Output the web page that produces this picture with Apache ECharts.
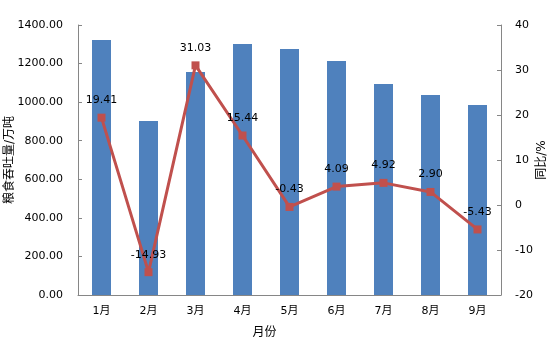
<!DOCTYPE html>
<html><head><meta charset="utf-8">
<script src="https://cdn.jsdelivr.net/npm/echarts@6/dist/echarts.min.js"></script>
<style>html,body{margin:0;padding:0;background:#fff}#c{width:554px;height:358px}</style>
</head><body><div id="c"></div>
<script>
const categories = ['1月','2月','3月','4月','5月','6月','7月','8月','9月'];
const throughput = [1322, 902, 1156, 1301, 1275, 1213, 1094, 1037, 985];
const yoy = [19.41, -14.93, 31.03, 15.44, -0.43, 4.09, 4.92, 2.90, -5.43];
const leftTicks = [0, 200, 400, 600, 800, 1000, 1200, 1400];
const rightTicks = [-20, -10, 0, 10, 20, 30, 40];

const font = '"DejaVu Sans", "Noto Sans CJK SC", sans-serif';
const axisColor = '#868686';
const chart = echarts.init(document.getElementById('c'));
chart.setOption({
  animation: false,
  backgroundColor: '#fff',
  textStyle: {fontFamily: font},
  grid: {left: 78, right: 53, top: 25, bottom: 63, containLabel: false, outerBoundsMode: 'none'},
  xAxis: {
    type: 'category', data: categories,
    name: '月份', nameLocation: 'middle', nameGap: 32, nameMoveOverlap: false,
    nameTextStyle: {color: '#000', fontSize: 12, fontFamily: font, padding: [0, 50, 0, 0]},
    axisLine: {lineStyle: {color: axisColor, width: 1}},
    axisTick: {inside: true, length: 5, lineStyle: {color: axisColor}},
    axisLabel: {color: '#000', fontSize: 11, margin: 11, fontFamily: font}
  },
  yAxis: [{
    type: 'value', min: leftTicks[0], max: leftTicks[leftTicks.length-1], interval: 200,
    name: '粮食吞吐量/万吨', nameLocation: 'middle', nameGap: 62, nameRotate: 90, nameMoveOverlap: false,
    nameTextStyle: {color: '#000', fontSize: 12, fontFamily: font},
    axisLine: {show: true, lineStyle: {color: axisColor}},
    axisTick: {show: true, inside: true, length: 4, lineStyle: {color: axisColor}},
    splitLine: {show: false},
    axisLabel: {color: '#000', fontSize: 11, margin: 15, fontFamily: font,
      formatter: v => v.toFixed(2)}
  }, {
    type: 'value', min: rightTicks[0], max: rightTicks[rightTicks.length-1], interval: 10,
    name: '同比/%', nameLocation: 'middle', nameGap: 35, nameRotate: 90, nameMoveOverlap: false,
    nameTextStyle: {color: '#000', fontSize: 12, fontFamily: font},
    axisLine: {show: true, lineStyle: {color: axisColor}},
    axisTick: {show: true, inside: true, length: 4, lineStyle: {color: axisColor}},
    splitLine: {show: false},
    axisLabel: {color: '#000', fontSize: 11, margin: 14, fontFamily: font}
  }],
  series: [{
    type: 'bar', data: throughput, yAxisIndex: 0, barWidth: 19,
    itemStyle: {color: '#4F81BD'}
  }, {
    type: 'line', data: yoy, yAxisIndex: 1,
    symbol: 'rect', symbolSize: 8,
    lineStyle: {color: '#C0504D', width: 3},
    itemStyle: {color: '#C0504D'},
    label: {show: true, position: 'top', distance: 8, color: '#000', fontSize: 11,
      fontFamily: font, formatter: p => p.value.toFixed(2)}
  }]
});
</script></body></html>
